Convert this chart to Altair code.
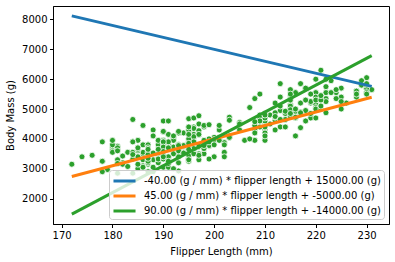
import altair as alt
import pandas as pd

# Flipper length (mm) and body mass (g) of the plotted penguins
flipper = [
    181, 186, 195, 193, 190, 181, 195, 193, 190, 186, 180, 182, 191, 198, 185, 195, 197, 184, 194, 174,
    180, 189, 185, 180, 187, 183, 187, 172, 180, 178, 178, 188, 184, 195, 196, 190, 180, 181, 184, 182,
    195, 186, 196, 185, 190, 182, 179, 190, 191, 186, 188, 190, 200, 187, 191, 186, 193, 181, 194, 185,
    195, 185, 192, 184, 192, 195, 188, 190, 198, 190, 190, 196, 197, 190, 195, 191, 184, 187, 195, 189,
    196, 187, 193, 191, 194, 190, 189, 189, 190, 202, 205, 185, 186, 187, 208, 190, 196, 178, 192, 192,
    203, 183, 190, 193, 184, 199, 190, 181, 197, 198, 191, 193, 197, 191, 196, 188, 199, 189, 189, 187,
    198, 176, 202, 186, 199, 191, 195, 191, 210, 190, 197, 193, 199, 187, 190, 191, 200, 185, 193, 193,
    187, 188, 190, 192, 185, 190, 184, 195, 193, 187, 201,
    211, 230, 210, 218, 215, 210, 211, 219, 209, 215, 214, 216, 214, 213, 210, 217, 210, 221, 209, 222,
    218, 215, 213, 215, 215, 215, 216, 215, 210, 220, 222, 209, 207, 230, 220, 220, 213, 219, 208, 208,
    208, 225, 210, 216, 222, 217, 210, 225, 213, 215, 210, 220, 210, 225, 217, 220, 208, 220, 208, 224,
    208, 221, 214, 231, 219, 230, 214, 229, 220, 223, 216, 221, 221, 217, 216, 230, 209, 220, 215, 223,
    212, 221, 212, 224, 212, 228, 218, 218, 212, 230, 218, 228, 212, 224, 214, 226, 216, 222, 203, 225,
    219, 228, 215, 228, 216, 215, 210, 219, 208, 209, 216, 229, 213, 230, 217, 230, 217, 222, 214, 215,
    222, 212, 213,
    192, 196, 193, 188, 197, 198, 178, 197, 195, 198, 193, 194, 185, 201, 190, 201, 197, 181, 190, 195,
    181, 191, 187, 193, 195, 197, 200, 200, 191, 205, 187, 201, 187, 203, 195, 199, 195, 210, 192, 205,
    210, 187, 196, 196, 196, 201, 190, 212, 187, 198, 199, 201, 193, 203, 187, 197, 191, 203, 202, 194,
    206, 189, 195, 207, 202, 193, 210, 198,
]
mass = [
    3750, 3800, 3250, 3450, 3650, 3625, 4675, 3475, 4250, 3300, 3700, 3200, 3800, 4400, 3700, 3450, 4500, 3325, 4200, 3400,
    3600, 3800, 3950, 3800, 3800, 3550, 3200, 3150, 3950, 3250, 3900, 3300, 3900, 3325, 4150, 3950, 3550, 3300, 4650, 3150,
    3900, 3100, 4400, 3000, 4600, 3425, 2975, 3450, 4150, 3500, 4300, 3450, 4050, 2900, 3700, 3550, 3800, 2850, 3750, 3150,
    4400, 3600, 4050, 2850, 3950, 3350, 4100, 3050, 4450, 3600, 3900, 3550, 4150, 3700, 4250, 3700, 3900, 3550, 4000, 3200,
    4700, 3800, 4200, 3350, 3550, 3800, 3500, 3950, 3600, 3550, 4300, 3400, 4450, 3300, 4300, 3700, 4350, 2900, 4100, 3725,
    4725, 3075, 4250, 2925, 3550, 3750, 3900, 3175, 4775, 3825, 4600, 3200, 4275, 3900, 4075, 2900, 3775, 3350, 3325, 3150,
    3500, 3450, 3875, 3050, 4000, 3275, 4300, 3050, 4000, 3325, 3500, 3500, 4475, 3425, 3900, 3175, 3975, 3400, 4250, 3400,
    3475, 3050, 3725, 3000, 3650, 4250, 3475, 3450, 3750, 3700, 4000,
    4500, 5700, 4450, 5700, 5400, 4550, 4800, 5200, 4400, 5150, 4650, 5550, 4650, 5850, 4200, 5850, 4150, 6300, 4800, 5350,
    5700, 5000, 4400, 5050, 5000, 5100, 4100, 5650, 4600, 5550, 5250, 4700, 5050, 6050, 5150, 5400, 4950, 5250, 4350, 5350,
    3950, 5700, 4300, 4750, 5550, 4900, 4200, 5400, 5100, 5300, 4850, 5300, 4400, 5000, 4900, 5050, 4300, 5000, 4450, 5550,
    4200, 5300, 4400, 5650, 4700, 5700, 4650, 5800, 4700, 5550, 4750, 5000, 5100, 5200, 4700, 5800, 4600, 6000, 4750, 5950,
    4625, 5450, 4725, 5350, 4750, 5600, 4600, 5300, 4875, 5550, 4950, 5400, 4750, 5650, 4850, 5200, 4925, 4875, 4625, 5250,
    4850, 5600, 4975, 5500, 4725, 5500, 4700, 5500, 4575, 5500, 5000, 5950, 4650, 5500, 4375, 5850, 4875, 6000, 4925, 4850,
    5750, 5200, 5400,
    3500, 3900, 3650, 3525, 3725, 3950, 3250, 3750, 4150, 3700, 3800, 3775, 3700, 4050, 3575, 4050, 3300, 3700, 3450, 4400,
    3600, 3400, 2900, 3800, 3300, 4150, 3400, 3800, 3700, 4550, 3200, 4300, 3350, 4100, 3600, 3900, 3850, 4800, 2700, 4500,
    3950, 3650, 3550, 3500, 3675, 4450, 3400, 4300, 3250, 3675, 3325, 3950, 3600, 4050, 3350, 3450, 3250, 4050, 3800, 3525,
    3950, 3650, 3650, 4000, 3400, 3775, 4100, 3775,
]

# Candidate models drawn as lines: slope (g/mm) and intercept (g)
slopes = [-40, 45, 90]
intercepts = [15000, -5000, -14000]
line_colors = ["#1f77b4", "#ff7f0e", "#2ca02c"]
labels = [f"{s:.2f} (g / mm) * flipper length + {b:.2f} (g)" for s, b in zip(slopes, intercepts)]

x_ticks = [170, 180, 190, 200, 210, 220, 230]
y_ticks = [2000, 3000, 4000, 5000, 6000, 7000, 8000]

pts = pd.DataFrame({"flipper": flipper, "mass": mass})
xmin, xmax = min(flipper), max(flipper)
rows = []
for s, b, lab in zip(slopes, intercepts, labels):
    for x in (xmin, xmax):
        rows.append({"x": x, "y": s * x + b, "label": lab})
lines = pd.DataFrame(rows)

xdom = [168.3, 234.4]
ally = list(lines["y"]) + mass
ylo, yhi = min(ally), max(ally)
yr = yhi - ylo
ydom = [ylo - 0.05 * yr, yhi + 0.05 * yr]

FONT = "DejaVu Sans"
xaxis = alt.Axis(title="Flipper Length (mm)", values=x_ticks,
                 grid=False, tickSize=3.5, labelPadding=3, titlePadding=6, format="d",
                 labelOverlap=False)
yaxis = alt.Axis(title="Body Mass (g)", values=y_ticks,
                 grid=False, tickSize=3.5, labelPadding=2.5, titlePadding=6, format="d",
                 labelOverlap=False)

xs = alt.Scale(domain=xdom, nice=False, zero=False)
ys = alt.Scale(domain=ydom, nice=False, zero=False)

scatter = alt.Chart(pts).mark_point(
    filled=True, shape="circle", size=36, color="#2ca02c", stroke="white", strokeWidth=0.8, opacity=1
).encode(
    x=alt.X("flipper:Q", scale=xs, axis=xaxis),
    y=alt.Y("mass:Q", scale=ys, axis=yaxis),
)

line_layer = alt.Chart(lines).mark_line(strokeWidth=3, clip=True).encode(
    x=alt.X("x:Q", scale=xs, axis=xaxis),
    y=alt.Y("y:Q", scale=ys, axis=yaxis),
    color=alt.Color("label:N", scale=alt.Scale(domain=labels, range=line_colors),
                    legend=alt.Legend(title=None, orient="bottom-right", offset=5,
                                      symbolType="M-0.87,0H2.07", symbolStrokeWidth=3, symbolSize=225,
                                      labelFontSize=10, labelFont=FONT, labelColor="black",
                                      fillColor="rgba(255,255,255,0.8)", strokeColor="#cccccc",
                                      cornerRadius=3, padding=2, rowPadding=0, labelOffset=15,
                                      labelLimit=400)),
    detail="label:N",
)

chart = alt.layer(scatter, line_layer).properties(
    width=336, height=218,
    autosize=alt.AutoSizeParams(type="none"),
    padding={"left": 53, "top": 6, "right": 6, "bottom": 38},
).configure_view(stroke="black", strokeWidth=1).configure_axis(
    domainColor="black", tickColor="black", labelColor="black", titleColor="black",
    labelFont=FONT, titleFont=FONT, labelFontSize=10, titleFontSize=10, titleFontWeight="normal",
    domainWidth=1, tickWidth=1,
)

chart.save("out.html", embed_options={"renderer": "svg", "actions": False})
